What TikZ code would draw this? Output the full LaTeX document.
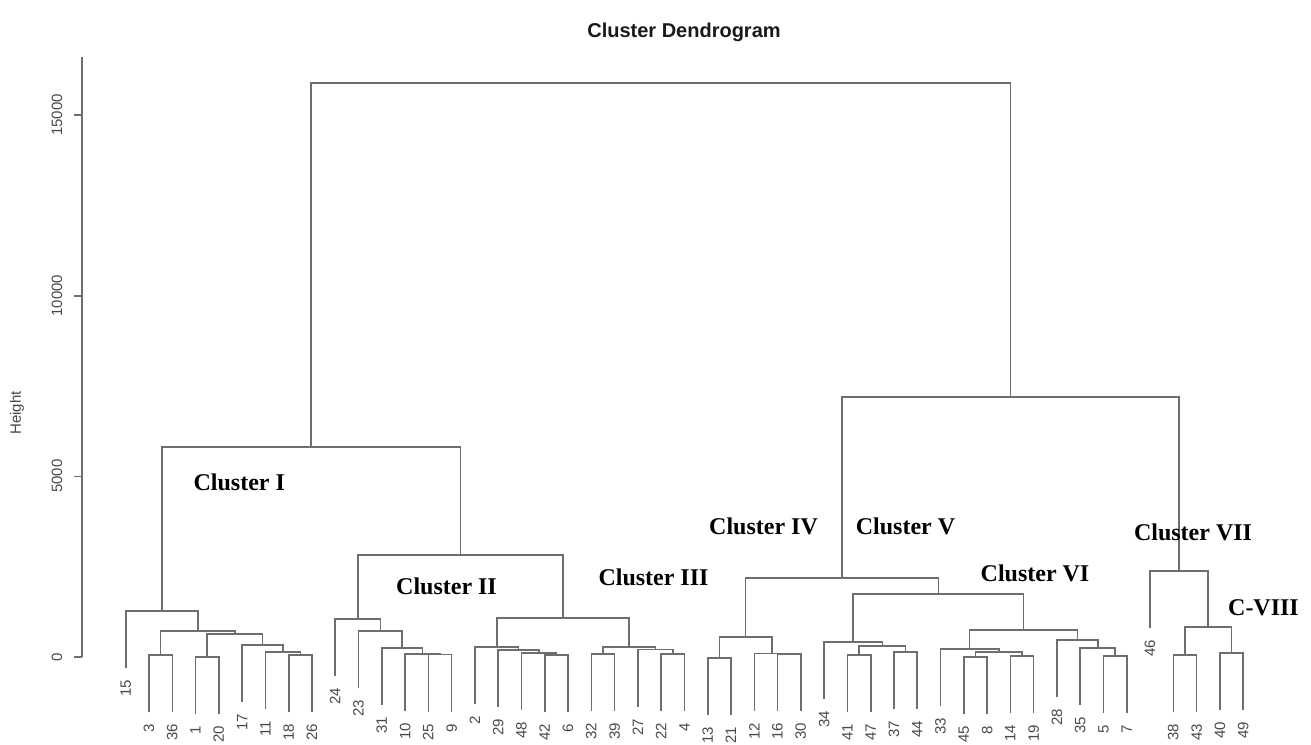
\documentclass[tikz,border=0pt]{standalone}
\usepackage{fontspec}
\setmainfont{Liberation Serif}
\newfontfamily\rsans{Liberation Sans}
\definecolor{dline}{HTML}{6E6E6E}
\definecolor{labgray}{HTML}{4A4A4A}
\tikzset{
  dendro/.style={draw=dline, line width=1.6pt},
  axisline/.style={draw=dline, line width=1.6pt},
  leaflab/.style={rotate=90, anchor=east, inner sep=0pt, text=labgray, font=\rsans\fontsize{15}{15}\selectfont},
  ticklab/.style={rotate=90, anchor=center, inner sep=0pt, text=labgray, font=\rsans\fontsize{15}{15}\selectfont},
  clab/.style={anchor=base, inner sep=0pt, font=\bfseries\fontsize{24}{24}\selectfont},
  ttl/.style={anchor=base, inner sep=0pt, text=black!90, font=\rsans\bfseries\fontsize{20}{20}\selectfont},
}
\begin{document}
\begin{tikzpicture}[x=1pt,y=-1pt]
\useasboundingbox[fill=white] (0,0) rectangle (1311,744);

% title
\node[ttl] (title) at (684,37) {Cluster Dendrogram};

% y axis
\coordinate (ax0) at (82,657);
\coordinate (axtop) at (82,57);
\draw[axisline] (axtop) -- (ax0);
\foreach \tv/\ty in {0/657, 5000/476.3, 10000/295.7, 15000/115}{
  \coordinate (tk\tv) at (82,\ty);
  \draw[axisline] (tk\tv) -- ++(-8,0);
  \node[ticklab] (tl\tv) at (57,\ty) {\tv};
}
\node[ticklab] (ylab) at (17,413) {Height};

% leaves: label / x / end y
\foreach \n/\lx/\le in {15/125.7/668, 3/149.0/712, 36/172.3/712, 1/195.5/714, 20/218.8/714, 17/242.1/702, 11/265.4/709, 18/288.7/712, 26/312.0/712, 24/335.2/676, 23/358.5/688, 31/381.8/705, 10/405.1/711, 25/428.3/711.5, 9/451.6/711.5, 2/474.9/704, 29/498.2/707, 48/521.5/710, 42/544.7/712, 6/568.0/712, 32/591.3/711, 39/614.6/711, 27/637.9/706.5, 22/661.1/711, 4/684.4/711, 13/707.7/715, 21/731.0/715, 12/754.3/710.5, 16/777.5/711, 30/800.8/711, 34/824.1/699, 41/847.4/712, 47/870.7/712, 37/893.9/709, 44/917.2/709, 33/940.5/706, 45/963.8/714, 8/987.1/714, 14/1010.3/713, 19/1033.6/713, 28/1056.9/697, 35/1080.2/705, 5/1103.5/713, 7/1126.7/713, 46/1150.0/628, 38/1173.3/712, 43/1196.6/712, 40/1219.9/710, 49/1243.1/710}{
  \coordinate (L\n) at (\lx,\le);
  \node[leaflab] (t\n) at ([yshift=-12pt]L\n) {\n};
}

% merges: name / x / y / child A / child B
\foreach \mn/\mx/\my/\ca/\cb in {
 a1/160.6/655/L3/L36, a2/207.2/657/L1/L20, a3/300.4/655/L18/L26, a4/282.9/652/L11/a3, a5/262.5/645/L17/a4, a6/234.9/634/a2/a5, a7/197.7/631/a1/a6, a8/161.7/611/L15/a7,
 b1/440.0/654.5/L25/L9, b2/422.5/654/L10/b1, b3/402.2/648/L31/b2, b4/380.4/631/L23/b3, b5/357.8/619/L24/b4,
 c1/556.4/655/L42/L6, c2/538.9/653/L48/c1, c3/518.6/650/L29/c2, c4/496.8/647/L2/c3, c5/603.0/654/L32/L39, c6/672.8/654/L22/L4, c7/655.3/649.5/L27/c6, c8/629.2/647/c5/c7, c9/563.0/618/c4/c8, d1/460.4/555/b5/c9, e1/311.0/447/a8/d1,
 f1/719.3/658/L13/L21, f2/789.2/654/L16/L30, f3/771.7/653.5/L12/f2, f4/745.5/637/f1/f3,
 g1/859.0/655/L41/L47, g2/905.6/652/L37/L44, g3/882.3/646/g1/g2, g4/853.2/642/L34/g3,
 h1/975.4/657/L45/L8, h2/1022.0/656/L14/L19, h3/998.7/652/h1/h2, h4/969.6/649/L33/h3, h5/1115.1/656/L5/L7, h6/1097.7/648/L35/h5, h7/1077.3/640/L28/h6, h8/1023.5/630/h4/h7, k1/938.3/594/g4/h8, k2/841.9/578/f4/k1,
 p1/1185.0/655/L38/L43, p2/1231.5/653/L40/L49, p3/1208.2/627/p1/p2, p4/1179.1/571/L46/p3, q1/1010.5/397/k2/p4, root/660.75/83/e1/q1}{
  \coordinate (\mn) at (\mx,\my);
  \draw[dendro] (\ca) |- (\mn) -| (\cb);
}

% cluster labels
\node[clab] (cI) at (239.3,490) {Cluster I};
\node[clab] (cII) at (446.5,594) {Cluster II};
\node[clab] (cIII) at (653.5,585) {Cluster III};
\node[clab] (cIV) at (763.5,534) {Cluster IV};
\node[clab] (cV) at (905.5,534) {Cluster V};
\node[clab] (cVI) at (1035,581) {Cluster VI};
\node[clab] (cVII) at (1193,540) {Cluster VII};
\node[clab] (cVIII) at (1263.5,615) {C-VIII};
\end{tikzpicture}
\end{document}
